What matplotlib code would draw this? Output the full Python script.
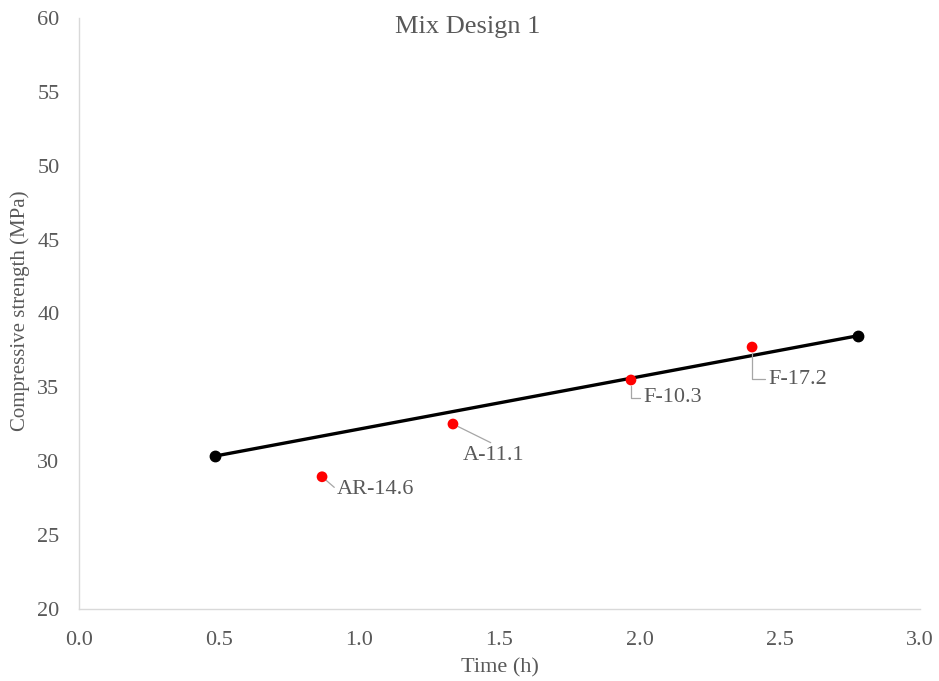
import matplotlib
matplotlib.use("Agg")
import matplotlib.pyplot as plt

# Trend line end points (time in h, strength in MPa)
trend_time = [0.485, 2.78]
trend_strength = [30.35, 38.5]

# Measured specimens
specimen_labels = ["AR-14.6", "A-11.1", "F-10.3", "F-17.2"]
specimen_time = [0.867, 1.334, 1.969, 2.401]
specimen_strength = [28.95, 32.52, 35.5, 37.73]

x_ticks = [0.0, 0.5, 1.0, 1.5, 2.0, 2.5, 3.0]
y_ticks = [20, 25, 30, 35, 40, 45, 50, 55, 60]

TEXT = "#595959"
AXIS = "#D9D9D9"
plt.rcParams["font.family"] = ["Liberation Serif", "DejaVu Serif"]

W, H = 939, 681
fig = plt.figure(figsize=(W / 100, H / 100), dpi=100)
ax = fig.add_axes([79 / W, 1 - 609 / H, (920 - 79) / W, (609 - 18) / H])

ax.plot(trend_time, trend_strength, color="black", lw=2.4, marker="o",
        markersize=7.5, solid_capstyle="round", zorder=3)
ax.scatter(specimen_time, specimen_strength, s=60, color="#FF0000",
           edgecolors="none", zorder=4)

ax.set_xlim(0, 3)
ax.set_ylim(20, 60)
ax.set_xticks(x_ticks)
ax.set_xticklabels([f"{v:.1f}" for v in x_ticks])
ax.set_yticks(y_ticks)

for side in ("top", "right"):
    ax.spines[side].set_visible(False)
for side in ("left", "bottom"):
    ax.spines[side].set_color(AXIS)
    ax.spines[side].set_linewidth(1.0)
ax.tick_params(length=0, labelsize=16, colors=TEXT)
ax.tick_params(axis="y", pad=14)
ax.tick_params(axis="x", pad=16)

ax.set_xlabel("Time (h)", fontsize=16, color=TEXT, labelpad=6)
fig.text(20 / W, 1 - 311 / H, "Compressive strength (MPa)", rotation=90,
         ha="center", va="center", fontsize=15, color=TEXT)
fig.text(468 / W, 1 - 27 / H, "Mix Design 1", ha="center", va="center",
         fontsize=19, color=TEXT)

leader = dict(arrowstyle="-", color="#A6A6A6", lw=0.9, shrinkA=0, shrinkB=4)
# (offset in pixels, relpos on text, connection style)
label_layout = [
    ((15, -13), (0.0, 0.5), "arc3"),
    ((10, -31), (0.45, 1.15), "arc3"),
    ((12, -18), (0.0, 0.5), "angle,angleA=0,angleB=90,rad=0"),
    ((16, -32), (0.0, 0.5), "angle,angleA=0,angleB=90,rad=0"),
]
for lab, t, s, (off, rel, conn) in zip(specimen_labels, specimen_time,
                                       specimen_strength, label_layout):
    ax.annotate(lab, xy=(t, s), xytext=off, textcoords="offset pixels",
                ha="left", va="center", fontsize=16, color=TEXT,
                arrowprops=dict(leader, relpos=rel, connectionstyle=conn))

fig.savefig("out.png", dpi=100, facecolor="white")
